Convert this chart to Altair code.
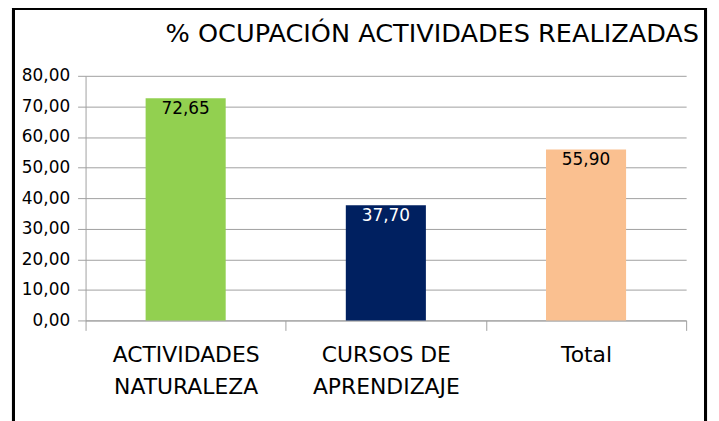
import altair as alt
import pandas as pd

categories = ["ACTIVIDADES\nNATURALEZA", "CURSOS DE\nAPRENDIZAJE", "Total"]
values = [72.65, 37.70, 55.90]
y_ticks = [0, 10, 20, 30, 40, 50, 60, 70, 80]

df = pd.DataFrame({"categoria": categories, "ocupacion": values})

FONT = "DejaVu Sans"
GRID = "#A0A0A0"
bar_colors = ["#92D050", "#002060", "#FAC090"]

x_enc = alt.X(
    "categoria:N",
    sort=categories,
    title=None,
    scale=alt.Scale(paddingInner=0, paddingOuter=0),
    axis=alt.Axis(
        labelAngle=0,
        labelExpr="split(datum.label, '\\n')",
        labelFontSize=22,
        labelLineHeight=32,
        labelFont=FONT,
        labelColor="#000000",
        labelPadding=14,
        tickBand="extent",
        tickSize=10,
        tickColor=GRID,
        domainColor=GRID,
        grid=False,
    ),
)

y_enc = alt.Y(
    "ocupacion:Q",
    title=None,
    scale=alt.Scale(domain=[0, 80], nice=False),
    axis=alt.Axis(
        values=y_ticks,
        labelExpr="replace(format(datum.value, '.2f'), '.', ',')",
        labelFontSize=17,
        labelFont=FONT,
        labelColor="#000000",
        labelPadding=8,
        labelOverlap=False,
        tickSize=8,
        tickColor=GRID,
        domainColor=GRID,
        gridColor=GRID,
        grid=True,
    ),
)

base = alt.Chart(df)

bars = base.mark_bar(width=alt.RelativeBandSize(0.4)).encode(
    x=x_enc,
    y=y_enc,
    color=alt.Color(
        "categoria:N",
        scale=alt.Scale(domain=categories, range=bar_colors),
        legend=None,
    ),
)

labels = base.transform_calculate(
    txt="replace(format(datum.ocupacion, '.2f'), '.', ',')"
).mark_text(baseline="top", dy=3, fontSize=17, font=FONT).encode(
    x=x_enc,
    y=y_enc,
    text="txt:N",
    color=alt.condition(
        alt.datum.categoria == categories[1],
        alt.value("#FFFFFF"),
        alt.value("#000000"),
    ),
)

frame = base.mark_rect(fill=None, stroke="#000000", strokeWidth=3).encode(
    x=alt.value(-72.5), x2=alt.value(623.5), y=alt.value(-68), y2=alt.value(355)
)

chart = (
    alt.layer(bars, labels, frame)
    .properties(
        width=604,
        height=246,
        title=alt.TitleParams(
            "% OCUPACIÓN ACTIVIDADES REALIZADAS",
            anchor="end",
            frame="group",
            fontSize=25.7,
            font=FONT,
            fontWeight="normal",
            color="#000000",
            baseline="alphabetic",
            offset=0,
            dy=61,
            dx=13,
        ),
        autosize=alt.AutoSizeParams(type="none"),
        padding={"left": 78, "top": 67, "right": 25, "bottom": 110},
        background="#FFFFFF",
    )
    .configure_view(stroke=None)
)

chart.save("out.html", embed_options={"renderer": "svg", "actions": False})
